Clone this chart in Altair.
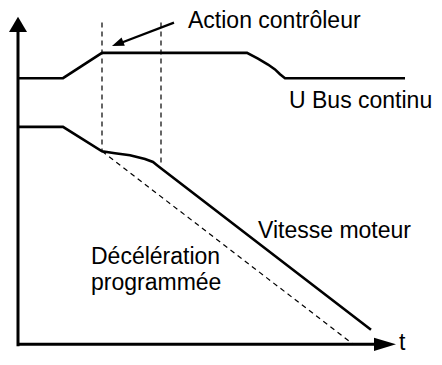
import altair as alt
import pandas as pd

# Schematic curves (figure-pixel coordinates: t to the right, v downward)
bus_t = [18, 63, 102, 247, 258, 268, 275, 280, 285, 405]
bus_v = [80, 80, 54, 54, 60, 66, 71, 76, 80, 80]

speed_t = [18, 63, 102, 115, 130, 145, 153, 158, 371]
speed_v = [130, 130, 155, 157, 159, 163, 166, 170, 338]

ramp_t = [102, 352]
ramp_v = [155, 352]

mark1_t = [102, 102]
mark1_v = [23, 155]
mark2_t = [161, 161]
mark2_v = [23, 168]

yaxis_t = [18, 18]
yaxis_v = [355, 28]
xaxis_t = [17, 380]
xaxis_v = [353, 353]

pointer_t = [174, 118]
pointer_v = [23, 45]

labels = ["Action contrôleur", "U Bus continu", "Vitesse moteur",
          "Décélération\nprogrammée", "t"]
label_t = [188, 289, 258, 91, 399]
label_v = [28.5, 111, 244, 270.5, 358.5]

W, H = 426, 347
xs = alt.Scale(domain=[8, 8 + W])
ys = alt.Scale(domain=[364, 8])
FONT = "Liberation Sans"


def frame(t, v):
    return pd.DataFrame({"t": t, "v": v, "i": list(range(len(t)))})


def enc():
    return dict(
        x=alt.X("t:Q", scale=xs, axis=None),
        y=alt.Y("v:Q", scale=ys, axis=None),
        order=alt.Order("i:Q"),
    )


def solid(t, v, w=2.6):
    return alt.Chart(frame(t, v)).mark_line(color="black", strokeWidth=w).encode(**enc())


def dashed(t, v):
    return alt.Chart(frame(t, v)).mark_line(
        color="black", strokeWidth=1.2, strokeDash=[5, 4]
    ).encode(**enc())


def head(t, v, path, size, angle):
    return alt.Chart(frame([t], [v])).mark_point(
        shape=path, size=size, angle=angle, filled=True, color="black",
        opacity=1, strokeWidth=0
    ).encode(x=alt.X("t:Q", scale=xs, axis=None), y=alt.Y("v:Q", scale=ys, axis=None))


ARROW = "M0,0L-2,-0.6L-2,0.6Z"

layers = [
    solid(yaxis_t, yaxis_v, 3),
    solid(xaxis_t, xaxis_v, 3),
    head(396, 353, ARROW, 484, 0),
    head(18, 17, "M0,0L-1.7,-1L-1.7,1Z", 324, 270),
    dashed(mark1_t, mark1_v),
    dashed(mark2_t, mark2_v),
    dashed(ramp_t, ramp_v),
    solid(bus_t, bus_v),
    solid(speed_t, speed_v),
    solid(pointer_t, pointer_v, 2.2),
    head(112, 47, "M0,0L-2,-0.75L-2,0.75Z", 144, 158.8),
    alt.Chart(pd.DataFrame({"t": label_t, "v": label_v, "label": labels})).mark_text(
        align="left", baseline="alphabetic", font=FONT, fontSize=23, color="black",
        lineBreak="\n", lineHeight=26
    ).encode(
        x=alt.X("t:Q", scale=xs, axis=None),
        y=alt.Y("v:Q", scale=ys, axis=None),
        text="label:N",
    ),
]

chart = alt.layer(*layers).properties(
    width=W, height=H, autosize=alt.AutoSizeParams(type="none"), padding=0
).configure_view(stroke=None)

chart.save("out.html", embed_options={"renderer": "svg", "actions": False})
